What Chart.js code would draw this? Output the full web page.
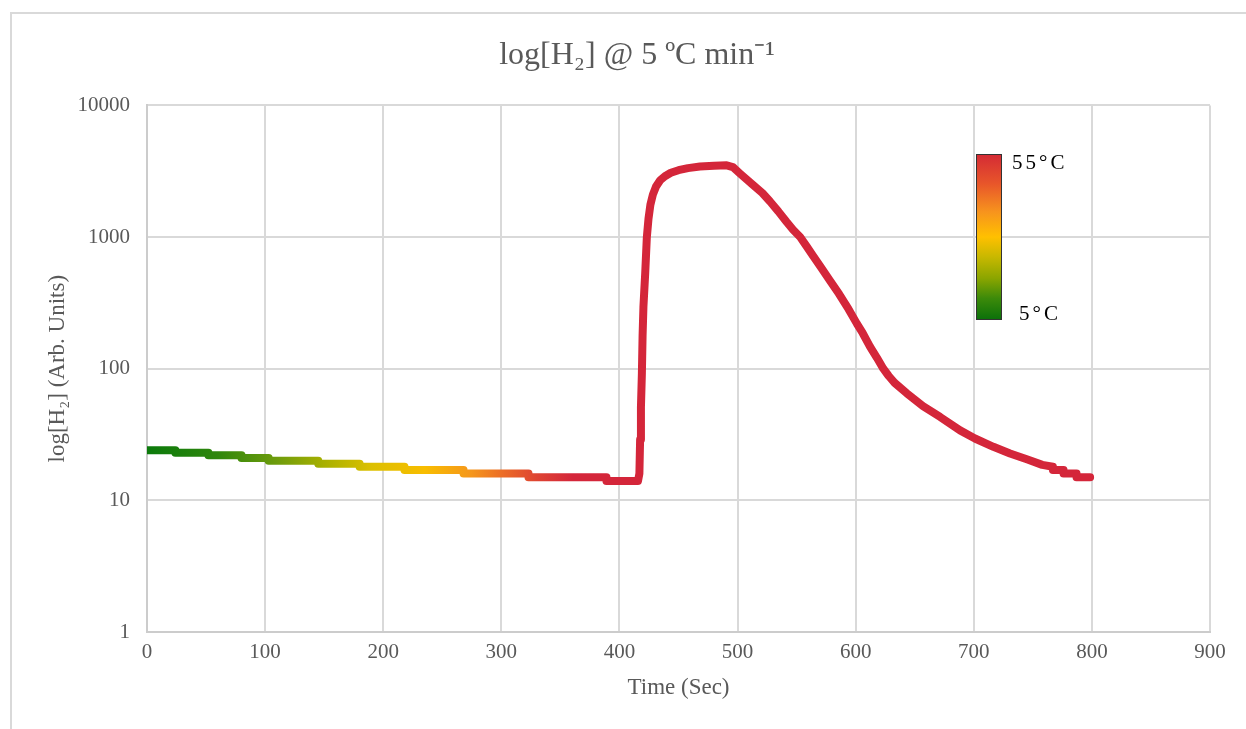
<!DOCTYPE html>
<html>
<head>
<meta charset="utf-8">
<script src="https://cdn.jsdelivr.net/npm/chart.js@4/dist/chart.umd.min.js"></script>
<style>
  html, body { margin: 0; padding: 0; background: #ffffff; overflow: hidden; }
  #wrap { position: relative; width: 1246px; height: 729px; }
  #frame { position: absolute; left: 10px; top: 12px; width: 1300px; height: 800px;
           border-top: 2px solid #d9d9d9; border-left: 2px solid #d9d9d9; }
  canvas { position: absolute; left: 0; top: 0; }
</style>
</head>
<body>
<div id="wrap">
  <div id="frame"></div>
  <canvas id="c" width="1246" height="729"></canvas>
</div>
<script>
// ---- data ----
const timeSec = [
  0, 24, 24, 52, 52, 80, 80, 103, 103, 145, 145, 180, 180, 218, 218, 268, 268, 323, 323, 389, 389, 415.7,
  416.9, 417.5, 418.2, 419, 419.6, 420.3, 421.8, 423.2, 424.6, 426.2, 428.3, 431, 434.5, 438.5, 443.5, 450, 458, 468.2, 480, 490.8,
  496, 502.1, 513.4, 521, 527.5, 534.5, 541.6, 547, 553, 558.5, 564, 571, 578, 586, 594, 601, 606, 612, 618, 623.4, 628, 633, 643.3, 657,
  671.5, 688.4, 701, 716.6, 730.7, 744.9, 758, 767, 767, 776, 776, 787, 787, 798.5
];
const h2Values = [
  24, 24, 23, 23, 22, 22, 21, 21, 20, 20, 19, 19, 18, 18, 17, 17, 16, 16, 15, 15, 14, 14,
  16, 29, 51, 92, 180, 294, 528, 1000, 1380, 1760, 2100, 2420, 2700, 2900, 3080, 3220, 3340, 3430, 3480, 3506,
  3400, 3033, 2472, 2160, 1862, 1567, 1300, 1135, 1000, 850, 718, 581, 470, 369, 283, 220, 186, 148, 121, 100, 88, 78, 65, 52,
  43, 34, 29.5, 25.5, 22.7, 20.5, 18.6, 18, 17, 17, 16, 16, 15, 15
];
const xTicks = [0, 100, 200, 300, 400, 500, 600, 700, 800, 900];
const yTicks = [1, 10, 100, 1000, 10000];
const yTickLabels = ['1', '10', '100', '1000', '10000'];
const chartTitle = 'log[H\u2082] @ 5 \u00BAC min\u207B\u00B9';
const xTitle = 'Time (Sec)';
const yTitle = 'log[H\u2082] (Arb. Units)';
// colour of the trace along time (temperature ramp)
const gradTimes = [0, 60, 110, 150, 190, 235, 275, 300, 330, 360];
const gradColors = ['#0b7a0b', '#2f860c', '#6e9c0c', '#a8b000', '#dcc000', '#f8bd00', '#f5961c', '#ec6e26', '#de4432', '#d4263a'];
// temperature colour bar
const barLabels = ['55\u00B0C', '5\u00B0C'];
const barStops = [0, 0.18, 0.35, 0.5, 0.62, 0.75, 0.87, 1];
const barColors = ['#d42a35', '#e8562a', '#f7941d', '#ffc000', '#c8b800', '#8aa500', '#3c8a0a', '#0a700a'];

const points = timeSec.map((t, i) => ({ x: t, y: h2Values[i] }));
const serif = "'Liberation Serif', 'Times New Roman', serif";
const grey = '#595959';

function traceColor(ctx) {
  const chart = ctx.chart;
  const { chartArea, scales } = chart;
  if (!chartArea) return gradColors[0];
  const x0 = scales.x.getPixelForValue(gradTimes[0]);
  const x1 = scales.x.getPixelForValue(gradTimes[gradTimes.length - 1]);
  const g = chart.ctx.createLinearGradient(x0, 0, x1, 0);
  const span = gradTimes[gradTimes.length - 1] - gradTimes[0];
  gradTimes.forEach((t, i) => g.addColorStop((t - gradTimes[0]) / span, gradColors[i]));
  return g;
}

const extras = {
  id: 'extras',
  afterLayout(chart) {
    if (chart.titleBlock) { chart.titleBlock.left = 28; chart.titleBlock.right = 1246; }
  },
  afterDatasetsDraw(chart) {
    const ctx = chart.ctx;
    const bx = 976, by = 154, bw = 26, bh = 166;
    const g = ctx.createLinearGradient(0, by, 0, by + bh);
    barStops.forEach((s, i) => g.addColorStop(s, barColors[i]));
    ctx.save();
    ctx.fillStyle = g;
    ctx.fillRect(bx, by, bw, bh);
    ctx.strokeStyle = '#333333';
    ctx.lineWidth = 1;
    ctx.strokeRect(bx + 0.5, by + 0.5, bw - 1, bh - 1);
    ctx.fillStyle = '#000000';
    ctx.font = '21px ' + serif;
    ctx.textBaseline = 'middle';
    ctx.textAlign = 'left';
    try { ctx.letterSpacing = '3px'; } catch (e) {}
    ctx.fillText(barLabels[0], 1012, 163);
    ctx.fillText(barLabels[1], 1019, 314);
    ctx.restore();
  }
};

new Chart(document.getElementById('c'), {
  type: 'line',
  data: {
    datasets: [{
      data: points,
      borderColor: traceColor,
      borderWidth: 8,
      borderCapStyle: 'round',
      borderJoinStyle: 'round',
      pointRadius: 0,
      tension: 0,
      fill: false
    }]
  },
  options: {
    responsive: false,
    animation: false,
    layout: { padding: { left: 0, right: 36, top: 0, bottom: 0 } },
    plugins: {
      legend: { display: false },
      tooltip: { enabled: false },
      title: {
        display: true,
        text: chartTitle,
        color: grey,
        font: { family: serif, size: 32, weight: 'normal' },
        padding: { top: 36, bottom: 31 }
      }
    },
    scales: {
      x: {
        type: 'linear',
        min: 0, max: 900,
        afterBuildTicks: s => { s.ticks = xTicks.map(v => ({ value: v })); },
        afterFit: s => { s.height = 97; },
        ticks: { color: grey, font: { family: serif, size: 21 }, padding: 8, maxRotation: 0 },
        grid: { color: '#d9d9d9', lineWidth: 2, drawTicks: false },
        border: { color: '#cccccc', width: 2 },
        title: { display: true, text: xTitle, color: grey, font: { family: serif, size: 23 }, padding: { top: 0, bottom: 27 } }
      },
      y: {
        type: 'logarithmic',
        min: 1, max: 10000,
        afterBuildTicks: s => { s.ticks = yTicks.map(v => ({ value: v })); },
        afterFit: s => { s.width = 147; },
        ticks: {
          color: grey, font: { family: serif, size: 21 }, padding: 17,
          callback: (v) => { const i = yTicks.indexOf(v); return i >= 0 ? yTickLabels[i] : ''; }
        },
        grid: { color: '#d9d9d9', lineWidth: 2, drawTicks: false },
        border: { color: '#cccccc', width: 2 },
        title: { display: true, text: yTitle, color: grey, font: { family: serif, size: 23 }, padding: { top: 44, bottom: 0 } }
      }
    }
  },
  plugins: [extras]
});
</script>
</body>
</html>
